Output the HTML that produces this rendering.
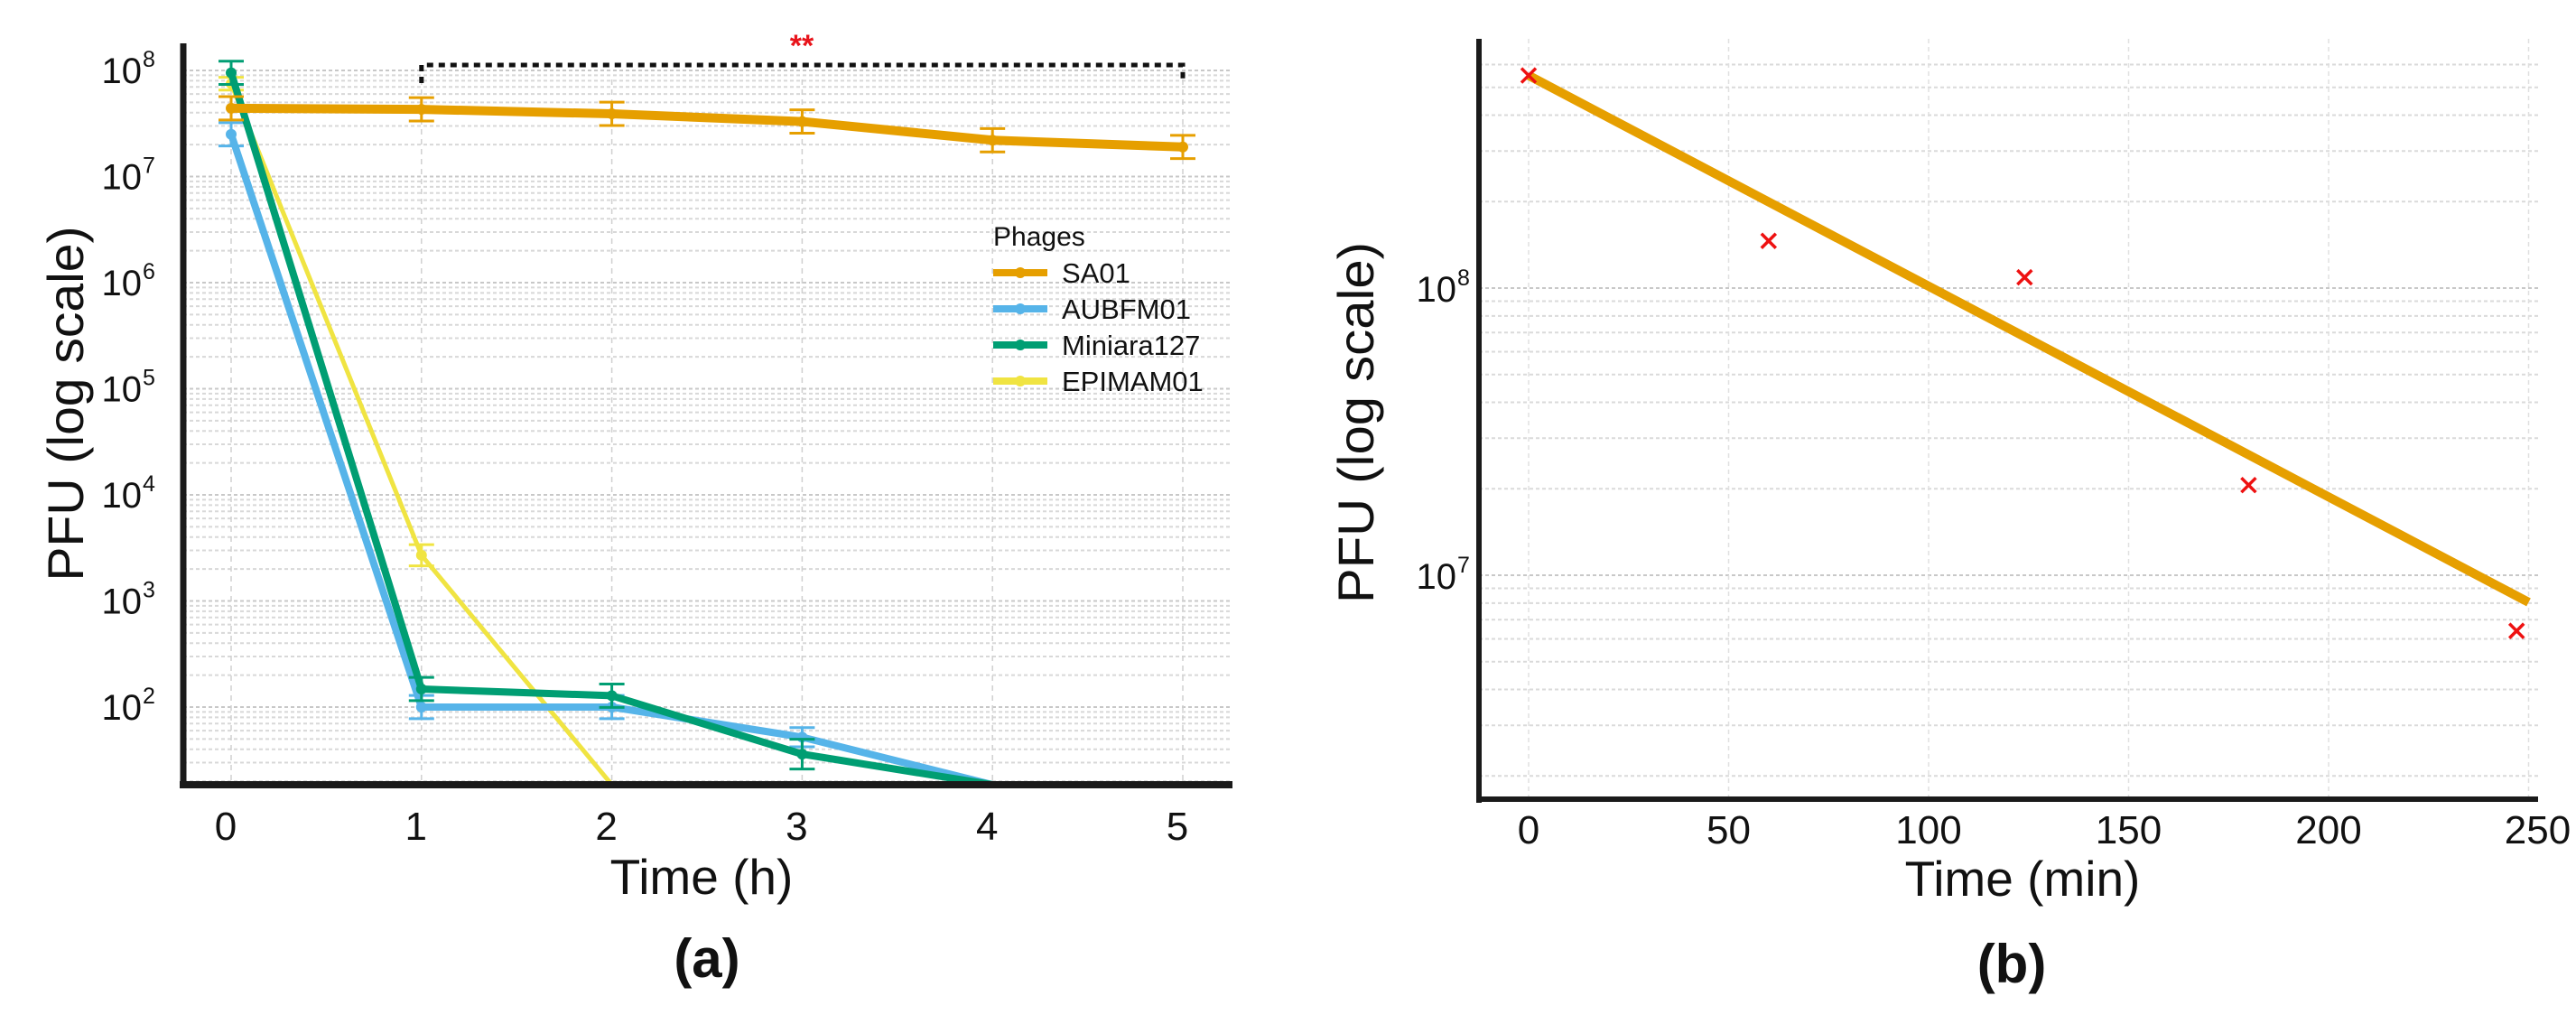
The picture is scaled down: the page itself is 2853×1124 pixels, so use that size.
<!DOCTYPE html>
<html><head><meta charset="utf-8"><style>
html,body{margin:0;padding:0;background:#fff;}
svg{display:block;font-family:"Liberation Sans",Arial,sans-serif;}
</style></head><body>
<svg id="fig" width="2853" height="1124" viewBox="0 0 2853 1124" xmlns="http://www.w3.org/2000/svg">
<g id="pa"></g>
<g id="pb"></g>
</svg>
<script>
// ---- Panel (a) data ----
const hours = [0,1,2,3,4,5];
const phageNames = ["SA01","AUBFM01","Miniara127","EPIMAM01"];
const phageColors = ["#E69F00","#56B4E9","#009E73","#F0E442"];
const sa01Vals = [4.4e7,4.3e7,3.9e7,3.3e7,2.2e7,1.9e7];
const sa01ErrLog = [0.11,0.11,0.11,0.11,0.11,0.11];
const aubVals = [2.5e7,100,100,52,18];
const aubErrLog = [0.11,0.11,0.11,0.09,0];
const minVals = [9.5e7,148,128,36,18];
const minErrLog = [0.11,0.11,0.11,0.14,0];
const epiVals = [7.5e7,2700,18];
const epiErrLog = [0.06,0.1,0];
const yTicksA = [2,3,4,5,6,7,8];
const xTicksA = ["0","1","2","3","4","5"];
// ---- Panel (b) data ----
const minutes = [0,60,124,180,247];
const pfuB = [5.5e8,1.46e8,1.09e8,2.06e7,6.4e6];
const fitT = [0,250];
const fitV = [5.5e8,8.05e6];
const yTicksB = [7,8];
const xTicksB = [0,50,100,150,200,250];

const NS="http://www.w3.org/2000/svg";
function mk(parent,tag,attrs,name,inter){const e=document.createElementNS(NS,tag);for(const k in attrs)e.setAttribute(k,attrs[k]);


parent.appendChild(e);return e;}

// ===== Panel A =====
const A=document.getElementById('pa');
const axL=203, axB=869, axR=1365, axT=48;
const xa=h=>256+h*210.8;
const ya=v=>78+(8-Math.log10(v))*117.5;
const yaL=l=>78+(8-l)*117.5;
// minor gridlines
for(let d=1;d<=8;d++){for(let m=1;m<=9;m++){const l=d+Math.log10(m);const y=yaL(l);if(y<axT||y>axB-3)continue;
mk(A,'line',{x1:axL,x2:axR,y1:y,y2:y,stroke:m==1?'#c8c8c8':'#d8d8d8','stroke-width':2,'stroke-dasharray':'4 3'},'y-gridline',false);}}
hours.forEach(h=>mk(A,'line',{x1:xa(h),x2:xa(h),y1:axT+40,y2:axB,stroke:'#d0d0d0','stroke-width':1.5,'stroke-dasharray':'6 5'},'x-gridline',false));
// series
const series=[[sa01Vals,sa01ErrLog,10],[aubVals,aubErrLog,8],[minVals,minErrLog,8],[epiVals,epiErrLog,5]];
const order=[3,1,2,0];
order.forEach(i=>{const [vals,err,w]=series[i];const c=phageColors[i];
const pts=vals.map((v,k)=>[xa(hours[k]),Math.min(ya(v),axB)]);
mk(A,'polyline',{points:pts.map(p=>p.join(',')).join(' '),fill:'none',stroke:c,'stroke-width':w,'stroke-linejoin':'round'},'line-'+phageNames[i].toLowerCase(),false);
vals.forEach((v,k)=>{if(err[k]>0){const l=Math.log10(v);const y1=yaL(l+err[k]),y2=yaL(l-err[k]);const x=xa(hours[k]);
mk(A,'line',{x1:x,x2:x,y1:y1,y2:y2,stroke:c,'stroke-width':3},'error-bar',false);
mk(A,'line',{x1:x-14,x2:x+14,y1:y1,y2:y1,stroke:c,'stroke-width':3},'error-cap',false);
mk(A,'line',{x1:x-14,x2:x+14,y1:y2,y2:y2,stroke:c,'stroke-width':3},'error-cap',false);
mk(A,'circle',{cx:x,cy:ya(v),r:6,fill:c},'point-'+phageNames[i].toLowerCase(),false);}});
});
// axes
mk(A,'line',{x1:axL,x2:axL,y1:axT,y2:axB+4,stroke:'#1a1a1a','stroke-width':7},'y-axis',false);
mk(A,'line',{x1:axL-4,x2:axR,y1:axB,y2:axB,stroke:'#1a1a1a','stroke-width':8},'x-axis',false);
yTicksA.forEach(t=>{const y=yaL(t);
const tx=mk(A,'text',{x:157,y:y+14,'font-size':40,'text-anchor':'end',fill:'#111'},'y-tick-label',false);tx.textContent='10';
const s=mk(A,'text',{x:158,y:y-4,'font-size':25,fill:'#111'},'y-tick-exponent',false);s.textContent=String(t);});
xTicksA.forEach((t,k)=>{const tx=mk(A,'text',{x:xa(hours[k])-6,y:930,'font-size':44,'text-anchor':'middle',fill:'#111'},'x-tick-label',false);tx.textContent=t;});
let t=mk(A,'text',{x:777,y:990,'font-size':55,'text-anchor':'middle',fill:'#111'},'x-axis-title',false);t.textContent='Time (h)';
t=mk(A,'text',{x:783,y:1082,'font-size':60,'font-weight':'bold','text-anchor':'middle',fill:'#111'},'panel-a-label',false);t.textContent='(a)';
t=mk(A,'text',{x:0,y:0,'font-size':56,'text-anchor':'middle',fill:'#111',transform:'translate(92,447) rotate(-90)',textLength:393,lengthAdjust:'spacingAndGlyphs'},'y-axis-title',false);t.textContent='PFU (log scale)';
// significance bracket
mk(A,'polyline',{points:`${xa(1)},92 ${xa(1)},72 ${xa(5)},72 ${xa(5)},90`,fill:'none',stroke:'#111','stroke-width':5,'stroke-dasharray':'7 6'},'significance-bracket',false);
t=mk(A,'text',{x:888,y:62,'font-size':34,'font-weight':'bold','text-anchor':'middle',fill:'#e8141b'},'significance-stars',false);t.textContent='**';
// legend
const lg=mk(A,'g',{},'legend',false);
t=mk(lg,'text',{x:1100,y:272,'font-size':30,fill:'#111'},'legend-title',false);t.textContent='Phages';
phageNames.forEach((n,i)=>{const y=302+i*40;
mk(lg,'line',{x1:1100,x2:1160,y1:y,y2:y,stroke:phageColors[i],'stroke-width':8},'legend-swatch',false);
mk(lg,'circle',{cx:1130,cy:y,r:6,fill:phageColors[i]},'legend-marker',false);
const tx=mk(lg,'text',{x:1176,y:y+11,'font-size':31,fill:'#111'},'legend-entry',true);tx.textContent=n;});

// ===== Panel B =====
const B=document.getElementById('pb');
const bL=1638,bB=885,bR=2811,bT=43;
const xb=m=>1693+m*4.43;
const ybL=l=>319+(8-l)*318;
const yb=v=>ybL(Math.log10(v));
for(let d=6;d<=8;d++){for(let m=1;m<=9;m++){const y=ybL(d+Math.log10(m));if(y<bT+10||y>bB-10)continue;
mk(B,'line',{x1:bL,x2:bR,y1:y,y2:y,stroke:m==1?'#c8c8c8':'#dadada','stroke-width':2,'stroke-dasharray':'4 3'},'y-gridline',false);}}
xTicksB.forEach(m=>mk(B,'line',{x1:xb(m),x2:xb(m),y1:bT,y2:bB,stroke:'#e0e0e0','stroke-width':1.5,'stroke-dasharray':'5 4'},'x-gridline',false));
mk(B,'line',{x1:xb(fitT[0]),y1:yb(fitV[0]),x2:xb(fitT[1]),y2:yb(fitV[1]),stroke:'#E69F00','stroke-width':10},'fit-line',false);
minutes.forEach((m,k)=>{const x=xb(m),y=yb(pfuB[k]);
mk(B,'path',{d:`M${x-8},${y-8}L${x+8},${y+8}M${x-8},${y+8}L${x+8},${y-8}`,stroke:'#ee1111','stroke-width':3.5},'data-point',false);});
mk(B,'line',{x1:bL,x2:bL,y1:bT,y2:bB+4,stroke:'#1a1a1a','stroke-width':6},'y-axis',false);
mk(B,'line',{x1:bL-3,x2:bR,y1:bB,y2:bB,stroke:'#1a1a1a','stroke-width':6},'x-axis',false);
yTicksB.forEach(tk=>{const y=ybL(tk);
const tx=mk(B,'text',{x:1613,y:y+15,'font-size':40,'text-anchor':'end',fill:'#111'},'y-tick-label',false);tx.textContent='10';
const s=mk(B,'text',{x:1614,y:y-3,'font-size':25,fill:'#111'},'y-tick-exponent',false);s.textContent=String(tk);});
xTicksB.forEach(m=>{const tx=mk(B,'text',{x:xb(m)+(m==250?10:0),y:934,'font-size':44,'text-anchor':'middle',fill:'#111'},'x-tick-label',false);tx.textContent=String(m);});
t=mk(B,'text',{x:2240,y:992,'font-size':55,'text-anchor':'middle',fill:'#111'},'x-axis-title',false);t.textContent='Time (min)';
t=mk(B,'text',{x:2228,y:1088,'font-size':60,'font-weight':'bold','text-anchor':'middle',fill:'#111'},'panel-b-label',false);t.textContent='(b)';
t=mk(B,'text',{x:0,y:0,'font-size':56,'text-anchor':'middle',fill:'#111',transform:'translate(1521,468) rotate(-90)',textLength:400,lengthAdjust:'spacingAndGlyphs'},'y-axis-title',false);t.textContent='PFU (log scale)';
</script>
</body></html>
